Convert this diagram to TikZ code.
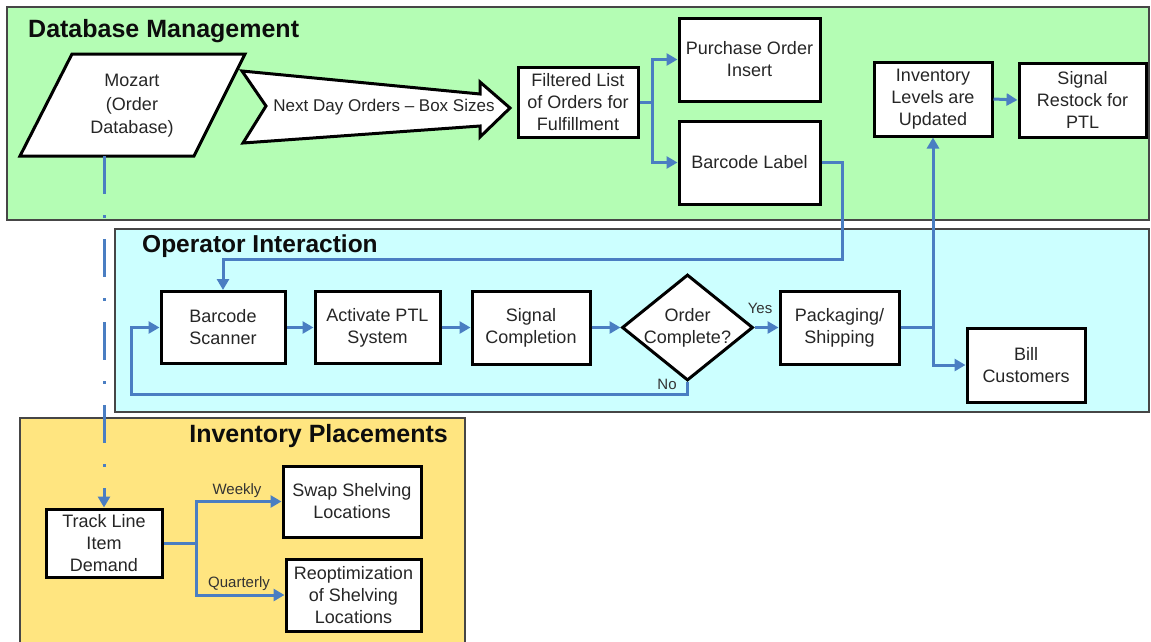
\documentclass[tikz,border=0pt]{standalone}
\usepackage{fontspec}
\setmainfont{Liberation Sans}
\usetikzlibrary{arrows.meta,shapes.geometric,calc}
\definecolor{dbgreen}{RGB}{180,253,180}
\definecolor{opcyan}{RGB}{204,255,255}
\definecolor{invyellow}{RGB}{255,229,128}
\definecolor{linkblue}{RGB}{74,126,194}
\definecolor{paneledge}{RGB}{70,70,70}
\newcommand{\myBody}{\fontsize{18pt}{22pt}\selectfont}
\newcommand{\myArrowTxt}{\fontsize{17pt}{20pt}\selectfont}
\newcommand{\myTitle}{\fontsize{25pt}{30pt}\selectfont\bfseries}
\newcommand{\myTitleB}{\fontsize{24.5pt}{30pt}\selectfont\bfseries}
\newcommand{\myLab}{\fontsize{15pt}{18pt}\selectfont}
\begin{document}
\begin{tikzpicture}[x=1pt,y=-1pt,
  panel/.style={draw=paneledge,line width=1.5pt},
  paneltitle/.style={font=\myTitle,inner sep=0pt,text=black!95},
  box/.style={draw=black,line width=3pt,fill=white,inner sep=0pt,align=center,font=\myBody,text=black!85},
  conn/.style={draw=linkblue,line width=3pt,-{Triangle[length=11pt,width=12pt]}},
  plain/.style={draw=linkblue,line width=3pt},
  dashdotconn/.style={draw=linkblue,line width=3pt,dash pattern=on 38pt off 21pt on 3pt off 21pt,-{Triangle[length=11pt,width=12pt]}},
  lab/.style={font=\myLab,text=black!80,inner sep=0pt},
  txt/.style={font=\myBody,align=center,text=black!85,inner sep=0pt}
]
\useasboundingbox (0,0) rectangle (1151,641);
\fill[white] (0,0) rectangle (1151,641);

% panels
\draw[panel,fill=dbgreen] (7,7) rectangle (1149,220);
\draw[panel,fill=opcyan] (115,229) rectangle (1149,412);
\draw[panel,fill=invyellow] (20,418) rectangle (465,650);

% panel titles
\node[paneltitle,anchor=base west] (tdb) at (28,37) {Database Management};
\node[paneltitle,font=\myTitleB,anchor=base west] (top) at (142,252) {Operator Interaction};
\node[paneltitle,anchor=base east] (tinv) at (448,442) {Inventory Placements};

% Mozart parallelogram
\draw[line width=3pt,fill=white,line join=miter] (72,54) -- (245,54) -- (194,156) -- (20,156) -- cycle;
\node[txt,font=\fontsize{18pt}{23.5pt}\selectfont] (mozart) at (132,106) {Mozart\\(Order\\Database)};
\coordinate (mozb) at (104,156);

% big arrow
\draw[line width=3pt,fill=white,line join=miter] (242,71) -- (480,94) -- (480,82) -- (510,108) -- (480,137) -- (480,126) -- (243,143) -- (266,106) -- cycle;
\node[txt,font=\myArrowTxt] (nextday) at (384,107) {Next Day Orders – Box Sizes};

% database boxes
\node[box,minimum width=120pt,minimum height=70pt] (filt) at (578,102) {Filtered List\\of Orders for\\Fulfillment};
\node[box,minimum width=141pt,minimum height=83pt] (po) at (749.5,59.5) {Purchase Order\\Insert};
\node[box,minimum width=141pt,minimum height=83pt] (bl) at (749.5,162.5) {Barcode Label};
\node[box,minimum width=118pt,minimum height=74pt] (inv) at (933,99) {Inventory\\Levels are\\Updated};
\node[box,minimum width=127pt,minimum height=74pt] (rst) at (1082.5,100) {Signal\\Restock for\\PTL};

% operator boxes
\node[box,minimum width=124pt,minimum height=72pt] (scan) at (223,327.5) {Barcode\\Scanner};
\node[box,minimum width=125pt,minimum height=72pt] (act) at (377.5,327.5) {Activate PTL\\System};
\node[box,minimum width=118pt,minimum height=73pt] (sig) at (531,327.5) {Signal\\Completion};
\node[diamond,draw=black,line width=3pt,fill=white,inner sep=0pt,minimum width=131pt,minimum height=106pt] (dec) at (687.5,327.5) {};
\node[txt] (dectext) at (dec.center) {Order\\Complete?};
\node[box,minimum width=119pt,minimum height=73pt] (pack) at (839.5,327.5) {Packaging/\\Shipping};
\node[box,minimum width=118pt,minimum height=74pt] (bill) at (1026,365) {Bill\\Customers};

% inventory boxes
\node[box,minimum width=116pt,minimum height=68pt] (track) at (104,543) {Track Line\\Item\\Demand};
\node[box,minimum width=138pt,minimum height=71pt] (swap) at (352,501.5) {Swap Shelving\\Locations};
\node[box,minimum width=135pt,minimum height=72pt] (reopt) at (353.5,595) {Reoptimization\\of Shelving\\Locations};

% coordinates for routing
\coordinate (split) at (652,102);
\coordinate (blturn) at (842,259);
\coordinate (noturn) at (131,394);
\coordinate (pjoin) at (pack.east -| inv.south);
\coordinate (tsplit) at (196,543);

% connectors
\draw[plain] (filt.east) -- (split);
\draw[conn] (split) |- (po.west);
\draw[conn] (split) |- (bl.west);
\draw[conn] (bl.east) -| (blturn) -| (scan.north);
\draw[conn] (inv.east) -- (rst.west);
\draw[conn] (scan.east) -- (act.west);
\draw[conn] (act.east) -- (sig.west);
\draw[conn] (sig.east) -- (dec.west);
\draw[conn] (dec.east) -- (pack.west);
\draw[conn] (dec.south) |- (noturn) |- (scan.west);
\draw[plain] (pack.east) -- (pjoin);
\draw[conn] (pjoin) -- (inv.south);
\draw[conn] (pjoin) |- (bill.west);
\draw[dashdotconn] (mozb) -- (track.north);
\draw[plain] (track.east) -- (tsplit);
\draw[conn] (tsplit) |- (swap.west);
\draw[conn] (tsplit) |- (reopt.west);

% labels
\node[lab] (lyes) at (760,308) {Yes};
\node[lab] (lno) at (667,384) {No};
\node[lab] (lweek) at (237,491) {Weekly};
\node[lab] (lquart) at (239,584) {Quarterly};
\end{tikzpicture}
\end{document}
